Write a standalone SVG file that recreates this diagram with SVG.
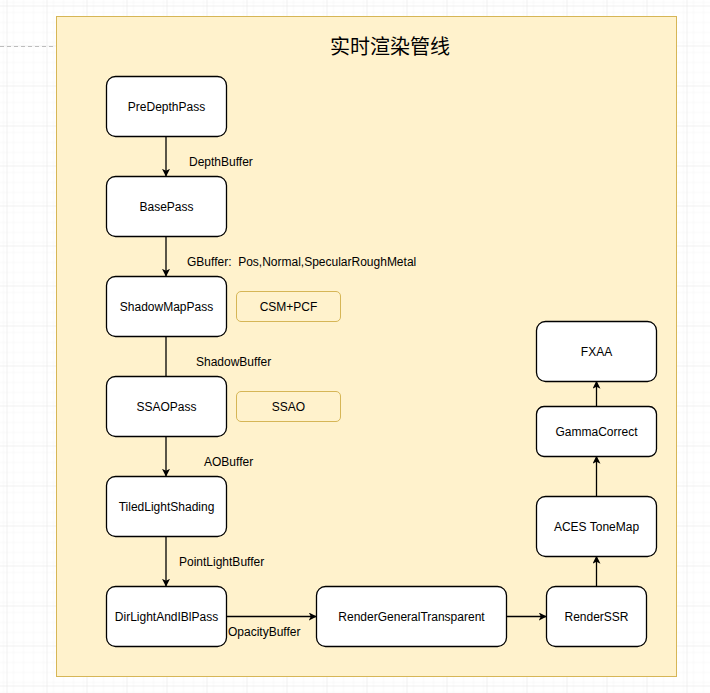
<svg xmlns="http://www.w3.org/2000/svg" width="710" height="693" viewBox="0 0 710 693">
<defs>
<pattern id="minor" x="6.5" y="6.5" width="10" height="10" patternUnits="userSpaceOnUse">
<path d="M10 0H0V10" fill="none" stroke="#f3f3f3" stroke-width="1"/>
</pattern>
<pattern id="major" x="6.5" y="5.5" width="40" height="40" patternUnits="userSpaceOnUse">
<rect width="40" height="40" fill="url(#minor)"/>
<path d="M40 0H0V40" fill="none" stroke="#e4e4e4" stroke-width="1"/>
</pattern>
<marker id="arr" viewBox="0 0 10 10" refX="9" refY="5" markerWidth="8" markerHeight="8" markerUnits="userSpaceOnUse" orient="auto">
<path d="M0 0L10 5L0 10L2.5 5Z" fill="#000"/>
</marker>
</defs>
<style>
.node{fill:#fff;stroke:#000;stroke-width:1.3}
.note{fill:#fff2cc;stroke:#d6b656;stroke-width:1}
.t{font-family:"Liberation Sans",Arial,sans-serif;font-size:12px;fill:#000;text-anchor:middle}
.lbl{font-family:"Liberation Sans",Arial,sans-serif;font-size:12px;fill:#000}
.e{stroke:#000;stroke-width:1.3;fill:none}
</style>
<rect width="710" height="693" fill="#fff"/>
<rect width="710" height="693" fill="url(#major)"/>
<line x1="0" y1="46.5" x2="56" y2="46.5" stroke="#bdbdbd" stroke-dasharray="4 3"/>
<g id="container">
<rect x="56.5" y="16.5" width="620" height="660" fill="#fff2cc" stroke="#d6b656"/>
<text x="390" y="54" font-family="'Noto Sans CJK SC','Liberation Sans',sans-serif" font-size="20" text-anchor="middle" fill="#000">实时渲染管线</text>
</g>
<g id="connectors">
<path class="e" d="M166 136.5V176" marker-end="url(#arr)"/>
<path class="e" d="M166 236.5V276" marker-end="url(#arr)"/>
<path class="e" d="M166 336.5V376.5"/>
<path class="e" d="M166 436.5V476" marker-end="url(#arr)"/>
<path class="e" d="M166 536.5V586" marker-end="url(#arr)"/>
<path class="e" d="M226.5 616.5H316" marker-end="url(#arr)"/>
<path class="e" d="M506.5 616.5H546" marker-end="url(#arr)"/>
<path class="e" d="M596.5 586.5V556.5" marker-end="url(#arr)"/>
<path class="e" d="M596.5 496.5V456.5" marker-end="url(#arr)"/>
<path class="e" d="M596.5 406.5V381.5" marker-end="url(#arr)"/>
<text class="lbl" x="189" y="166">DepthBuffer</text>
<text class="lbl" x="187" y="266" xml:space="preserve">GBuffer:  Pos,Normal,SpecularRoughMetal</text>
<text class="lbl" x="196" y="366">ShadowBuffer</text>
<text class="lbl" x="204" y="466">AOBuffer</text>
<text class="lbl" x="179" y="566">PointLightBuffer</text>
<text class="lbl" x="228" y="636">OpacityBuffer</text>
</g>
<g id="PreDepthPass"><rect class="node" x="106.5" y="76.5" width="120" height="60" rx="9"/><text class="t" x="166.5" y="111">PreDepthPass</text></g>
<g id="BasePass"><rect class="node" x="106.5" y="176.5" width="120" height="60" rx="9"/><text class="t" x="166.5" y="211">BasePass</text></g>
<g id="ShadowMapPass"><rect class="node" x="106.5" y="276.5" width="120" height="60" rx="9"/><text class="t" x="166.5" y="311">ShadowMapPass</text></g>
<g id="CSMPCF"><rect class="note" x="236.5" y="291.5" width="104" height="30" rx="4.5"/><text class="t" x="288.5" y="311">CSM+PCF</text></g>
<g id="SSAOPass"><rect class="node" x="106.5" y="376.5" width="120" height="60" rx="9"/><text class="t" x="166.5" y="411">SSAOPass</text></g>
<g id="SSAO"><rect class="note" x="236.5" y="391.5" width="104" height="30" rx="4.5"/><text class="t" x="288.5" y="411">SSAO</text></g>
<g id="TiledLightShading"><rect class="node" x="106.5" y="476.5" width="120" height="60" rx="9"/><text class="t" x="166.5" y="511">TiledLightShading</text></g>
<g id="DirLightAndIBlPass"><rect class="node" x="106.5" y="586.5" width="120" height="60" rx="9"/><text class="t" x="166.5" y="621">DirLightAndIBlPass</text></g>
<g id="RenderGeneralTransparent"><rect class="node" x="316.5" y="586.5" width="190" height="60" rx="9"/><text class="t" x="411.5" y="621">RenderGeneralTransparent</text></g>
<g id="RenderSSR"><rect class="node" x="546.5" y="586.5" width="100" height="60" rx="9"/><text class="t" x="596.5" y="621">RenderSSR</text></g>
<g id="ACESToneMap"><rect class="node" x="536.5" y="496.5" width="120" height="60" rx="9"/><text class="t" x="596.5" y="531">ACES ToneMap</text></g>
<g id="GammaCorrect"><rect class="node" x="536.5" y="406.5" width="120" height="50" rx="7.5"/><text class="t" x="596.5" y="436">GammaCorrect</text></g>
<g id="FXAA"><rect class="node" x="536.5" y="321.5" width="120" height="60" rx="9"/><text class="t" x="596.5" y="356">FXAA</text></g>
</svg>
